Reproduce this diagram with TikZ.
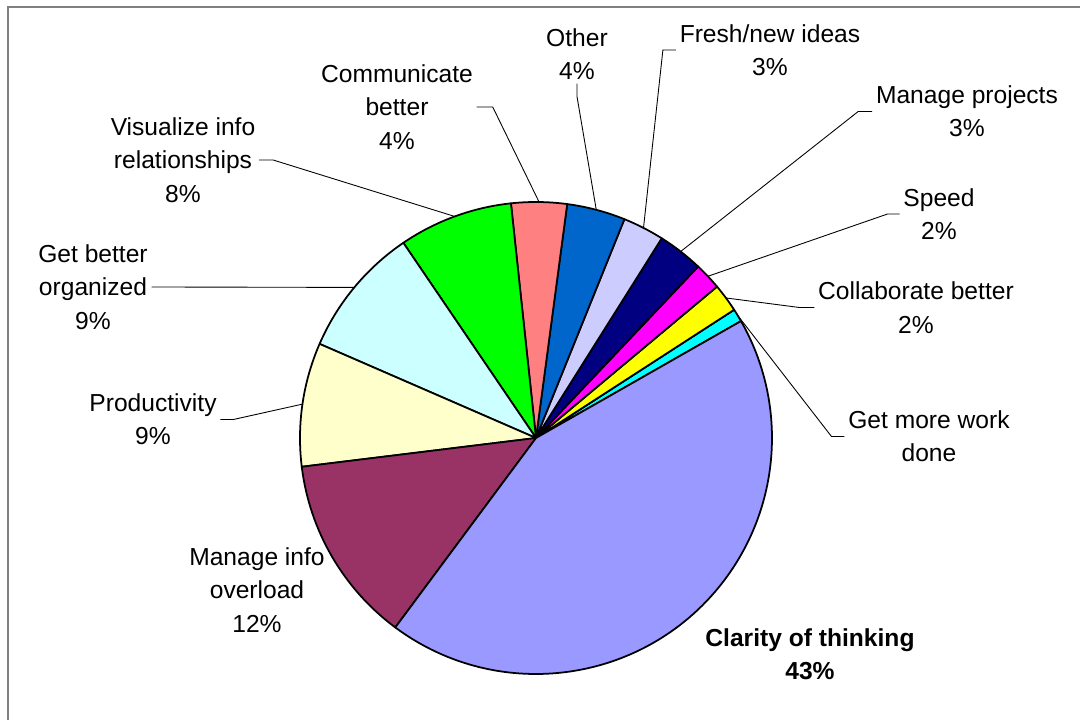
\documentclass[tikz,border=0pt]{standalone}
\usepackage{fontspec}
\setmainfont{Liberation Sans}
\usepackage{xcolor}
\usepackage{tikz}
\usetikzlibrary{positioning}

\definecolor{cclar}{HTML}{9999FF}
\definecolor{cover}{HTML}{993366}
\definecolor{cprod}{HTML}{FFFFCC}
\definecolor{corg}{HTML}{CCFFFF}
\definecolor{cvis}{HTML}{00FF00}
\definecolor{ccomm}{HTML}{FF8080}
\definecolor{cother}{HTML}{0066CC}
\definecolor{cfresh}{HTML}{CCCCFF}
\definecolor{cproj}{HTML}{000080}
\definecolor{cspeed}{HTML}{FF00FF}
\definecolor{ccollab}{HTML}{FFFF00}
\definecolor{cmore}{HTML}{00FFFF}

\tikzset{
    slice/.style={draw=black, line width=1pt, line join=round},
    leader/.style={draw=black, line width=0.5pt},
    label/.style={align=center, inner sep=2pt, font=\fontsize{14}{19}\selectfont},
    frame/.style={draw=gray, line width=0.8pt}
}

\begin{document}
\begin{tikzpicture}[x=0.02cm, y=0.02cm]
            \useasboundingbox (0,0) rectangle (1080,720);
            \draw[frame] (8,0) -- (8,713) -- (1080,713);

            \coordinate (ctr) at (536,282);
            % slices, counter-clockwise from the small cyan one
            \foreach \a/\b/\col/\nm in {29.7/32.9/cmore/more, 32.9/39.9/ccollab/collab,
                39.9/46.6/cspeed/speed, 46.6/57.8/cproj/proj, 57.8/68.0/cfresh/fresh,
                68.0/82.4/cother/other, 82.4/96.1/ccomm/comm, 96.1/124.2/cvis/vis,
                124.2/156.5/corg/org, 156.5/187.0/cprod/prod, 187.0/233.4/cover/over,
                233.4/389.7/cclar/clar}{
                \filldraw[slice, fill=\col] (ctr) -- ++(\a:236) arc[start angle=\a, end angle=\b, radius=236] -- cycle;
                \path (ctr) ++({(\a+\b)/2}:236) coordinate (p\nm);
            }

            \node (lComm) [label] at (397,613) {Communicate\\better\\4\%};
            \node (lVis) [label] at (183,560) {Visualize info\\relationships\\8\%};
            \node (lOrg) [label] at (93,433) {Get better\\organized\\9\%};
            \node (lProd) [label] at (153,300.5) {Productivity\\9\%};
            \node (lOver) [label] at (257,130) {Manage info\\overload\\12\%};
            \node (lClar) [label, font=\fontsize{14}{19}\selectfont\bfseries] at (810,66) {Clarity of thinking\\43\%};
            \node (lOther) [label] at (577,666) {Other\\4\%};
            \node (lFresh) [label] at (770,670) {Fresh/new ideas\\3\%};
            \node (lProj) [label] at (967,608.5) {Manage projects\\3\%};
            \node (lSpeed) [label] at (939,506) {Speed\\2\%};
            \node (lCollab) [label] at (916,412.5) {Collaborate better\\2\%};
            \node (lMore) [label] at (929,283.5) {Get more work\\done};

            \draw[leader] (lComm.east) -- ++(16,0) -- (pcomm);
            \draw[leader] (lVis.east) -- ++(14,0) -- (pvis);
            \draw[leader] (lOrg.east) -- (porg);
            \draw[leader] (lProd.east) -- ++(13,0) -- (pprod);
            \draw[leader] (lOther.south) -- ++(0,-13) -- (pother);
            \draw[leader] (lFresh.west) -- ++(-13,0) -- (pfresh);
            \draw[leader] (lProj.west) -- ++(-14,0) -- (pproj);
            \draw[leader] (lSpeed.west) -- ++(-12,0) -- (pspeed);
            \draw[leader] (lCollab.west) -- ++(-15,0) -- (pcollab);
            \draw[leader] (lMore.west) -- ++(-13,0) -- (pmore);
        \end{tikzpicture}
\end{document}
